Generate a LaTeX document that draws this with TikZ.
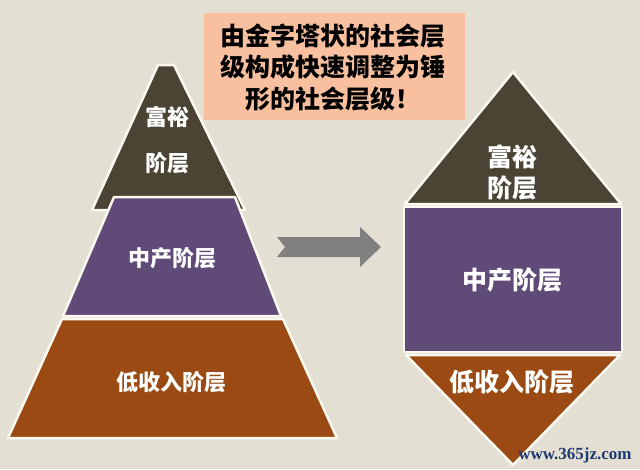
\documentclass[tikz,border=0pt]{standalone}
\usepackage{fontspec}
\newfontfamily\cjk{Noto Sans CJK SC}
\newfontfamily\wmfont{Liberation Serif}
\definecolor{bgc}{HTML}{E4DFD3}
\definecolor{richc}{HTML}{4B4434}
\definecolor{midc}{HTML}{5F4A78}
\definecolor{lowc}{HTML}{9A4A12}
\definecolor{titlec}{HTML}{F8C09E}
\definecolor{arrowc}{HTML}{808080}
\definecolor{edgec}{HTML}{FBF8F0}
\definecolor{wmc}{HTML}{1F3A6E}
\tikzset{
  layer/.style={draw=edgec, line width=2.5pt, line join=round},
  lblL/.style={text=white, font=\cjk\bfseries\fontsize{22}{31}\selectfont, align=center, inner sep=0pt},
  lblR/.style={text=white, font=\cjk\bfseries\fontsize{25}{31}\selectfont, align=center, inner sep=0pt},
  titletext/.style={text=black, font=\cjk\bfseries\fontsize{25}{31.5}\selectfont, align=center, inner sep=0pt}
}
\begin{document}
\begin{tikzpicture}[x=1pt, y=-1pt]
\useasboundingbox (0,0) rectangle (640,469);
\fill[bgc] (0,0) rectangle (640,469);
% title box
\fill[titlec] (204,13) rectangle (465,120);
\node[titletext] (title) at (333,67) {由金字塔状的社会层\\级构成快速调整为锤\\形的社会层级！};
% left pyramid
\path[layer, fill=richc] (158,65) -- (174,65) -- (245,210) -- (92,210) -- cycle;
\path[layer, fill=midc] (114,197) -- (235,197) -- (281,316) -- (63,316) -- cycle;
\path[layer, fill=lowc] (62,319) -- (283,319) -- (337,438) -- (8,438) -- cycle;
\node[lblL] (lrich1) at (167,117) {富裕};
\node[lblL] (lrich2) at (167,163) {阶层};
\node[lblL] (lmid) at (172,258) {中产阶层};
\node[lblL] (llow) at (171,382) {低收入阶层};
% arrow
\fill[arrowc] (277,237) -- (360,237) -- (360,227) -- (381,247) -- (360,267) -- (360,257) -- (277,257) -- (285,247) -- cycle;
% right diamond
\path[layer, fill=richc] (513,72) -- (621,204) -- (405,204) -- cycle;
\path[layer, fill=midc] (404,207) rectangle (622,352);
\path[layer, fill=lowc] (406,355) -- (620,355) -- (513,465) -- cycle;
\node[lblR] (rrich) at (512,172) {富裕\\阶层};
\node[lblR] (rmid) at (512,280) {中产阶层};
\node[lblR] (rlow) at (512,382) {低收入阶层};
% watermark
\node[text=wmc, font=\wmfont\bfseries\fontsize{17}{17}\selectfont, inner sep=0pt] (wm) at (575,455) {www.365jz.com};
\end{tikzpicture}
\end{document}
